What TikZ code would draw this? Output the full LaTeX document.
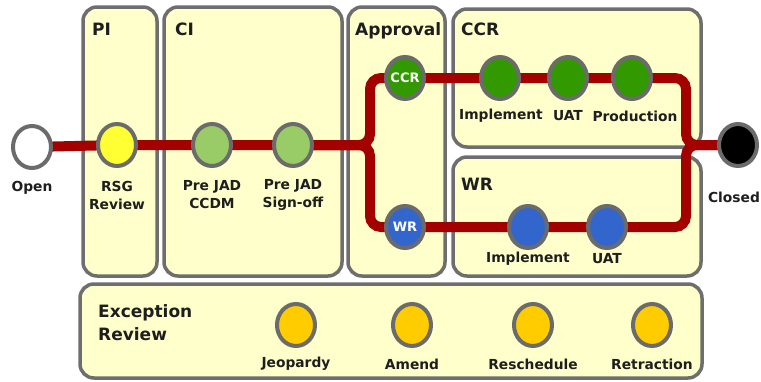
\documentclass[tikz,border=0pt]{standalone}
\usepackage{fontspec}
\setmainfont{DejaVu Sans}
\usetikzlibrary{shapes.geometric}
\pgfdeclarelayer{background}
\pgfsetlayers{background,main}
\definecolor{boxfill}{HTML}{FFFFCC}
\definecolor{boxline}{HTML}{6E6E6E}
\definecolor{trackred}{HTML}{A30000}
\definecolor{stopline}{HTML}{6B6B6B}
\definecolor{rsgyellow}{HTML}{FFFF33}
\definecolor{cigreen}{HTML}{99CC66}
\definecolor{ccrgreen}{HTML}{339900}
\definecolor{wrblue}{HTML}{3366CC}
\definecolor{excorange}{HTML}{FFCC00}
\definecolor{txt}{HTML}{1E1E1E}
\tikzset{
  stagebox/.style={draw=boxline,fill=boxfill,line width=3.5pt,rounded corners=14pt},
  track/.style={draw=trackred,line width=10pt,rounded corners=11pt},
  stop/.style={draw=stopline,line width=4pt,shape=ellipse,inner sep=0pt,
    minimum width=38pt,minimum height=42pt},
  title/.style={anchor=base west,inner sep=0pt,text=txt,
    font=\fontsize{17}{23}\selectfont\bfseries},
  lbl/.style={align=center,inner sep=0pt,text=txt,
    font=\fontsize{13.8}{18}\selectfont\bfseries},
  intext/.style={inner sep=0pt,text=white,font=\fontsize{13}{16}\selectfont\bfseries}
}
\begin{document}
\begin{tikzpicture}[x=1pt,y=-1pt]
    \useasboundingbox (0,0) rectangle (761,381);
    % stops on the main line
    \node[stop,fill=white] (open) at (32,147) {};
    \node[stop,fill=rsgyellow] (rsg) at (117,145) {};
    \node[stop,fill=cigreen] (ccdm) at (212,145) {};
    \node[stop,fill=cigreen] (signoff) at (293,145) {};
    \node[stop,fill=ccrgreen] (ccr) at (405,78) {};
    \node[stop,fill=wrblue] (wr) at (405,227) {};
    \node[stop,fill=ccrgreen] (cimpl) at (500,78) {};
    \node[stop,fill=ccrgreen] (cuat) at (568,78) {};
    \node[stop,fill=ccrgreen] (cprod) at (632,78) {};
    \node[stop,fill=wrblue] (wimpl) at (528,227) {};
    \node[stop,fill=wrblue] (wuat) at (607,227) {};
    \node[stop,fill=black] (closed) at (738,145) {};
    \coordinate (jl) at (370,145);
    \coordinate (jr) at (686,145);

    % exception stops
    \node[stop,fill=excorange] (jeop) at (296,325) {};
    \node[stop,fill=excorange] (amend) at (412,325) {};
    \node[stop,fill=excorange] (resched) at (533,325) {};
    \node[stop,fill=excorange] (retract) at (652,325) {};

    \node[intext] (ccrtxt) at (ccr) {CCR};
    \node[intext] (wrtxt) at (wr) {WR};

    % labels
    \node[lbl] (opentxt) at (32,188) {Open};
    \node[lbl] (rsgtxt) at (117,195) {RSG\\Review};
    \node[lbl] (ccdmtxt) at (212,195) {Pre JAD\\CCDM};
    \node[lbl] (signofftxt) at (293,195) {Pre JAD\\Sign-off};
    \node[lbl] (closedtxt) at (734,197) {Closed};
    \node[lbl] (cimpltxt) at (501,116) {Implement};
    \node[lbl] (cuattxt) at (568,116) {UAT};
    \node[lbl] (cprodtxt) at (635,116) {Production};
    \node[lbl] (wimpltxt) at (528,259) {Implement};
    \node[lbl] (wuattxt) at (607,259) {UAT};
    \node[lbl] (jeoptxt) at (296,364) {Jeopardy};
    \node[lbl] (amendtxt) at (412,364) {Amend};
    \node[lbl] (reschedtxt) at (533,364) {Reschedule};
    \node[lbl] (retracttxt) at (652,364) {Retraction};

    % stage titles
    \node[title] (pititle) at (92,35) {PI};
    \node[title] (cititle) at (175,35) {CI};
    \node[title] (aptitle) at (355,35) {Approval};
    \node[title] (ccrtitle) at (461,35) {CCR};
    \node[title] (wrtitle) at (461,190) {WR};
    \node[title,align=left] (exctitle) at (98,340) {Exception\\Review};

    \begin{pgfonlayer}{background}
        \draw[stagebox] (83,7) rectangle (157,276);
        \draw[stagebox] (164,7) rectangle (342,276);
        \draw[stagebox] (348,7) rectangle (445,276);
        \draw[stagebox] (453,9) rectangle (701,147);
        \draw[stagebox] (453,157) rectangle (701,276);
        \draw[stagebox] (80,284) rectangle (702,378);

        \draw[track] (open.center) -- (rsg.center) -- (ccdm.center) -- (signoff.center) -- (jl);
        \draw[track] (signoff.center) -- (jl) |- (ccr.center) -- (cimpl.center) -- (cuat.center)
            -- (cprod.center) -| (jr) -- (closed.center);
        \draw[track] (signoff.center) -- (jl) |- (wr.center) -- (wimpl.center) -- (wuat.center)
            -| (jr) -- (closed.center);
    \end{pgfonlayer}
\end{tikzpicture}
\end{document}
